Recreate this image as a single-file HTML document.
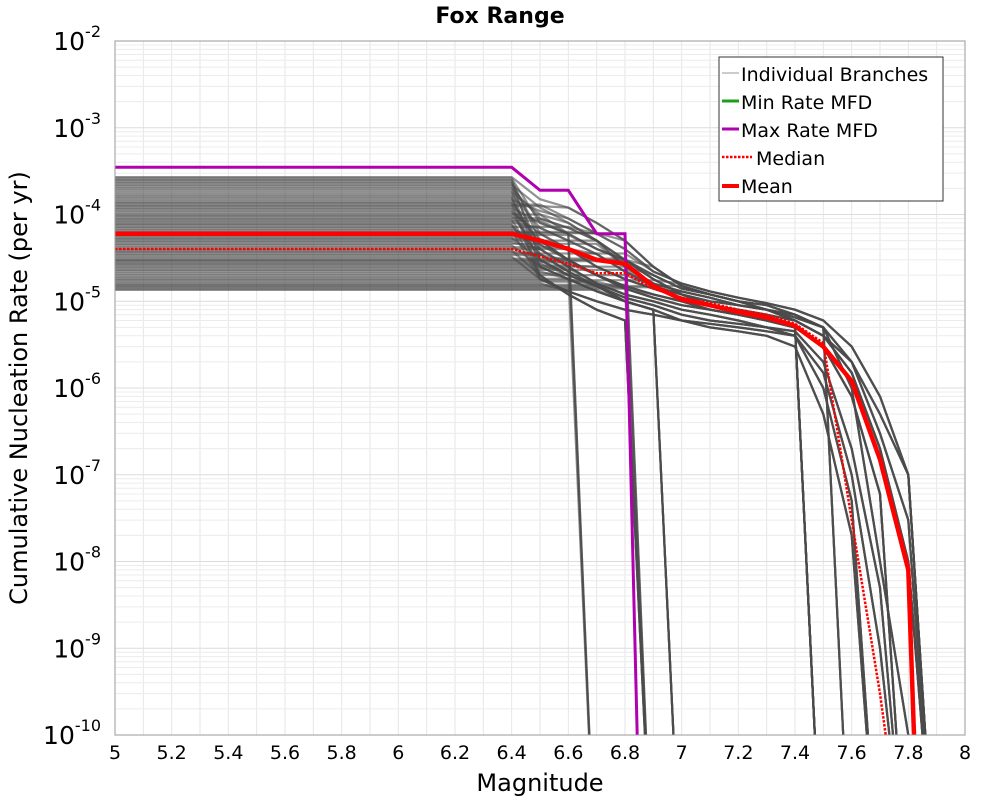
<!DOCTYPE html>
<html><head><meta charset="utf-8"><style>
html,body{margin:0;background:#fff;overflow:hidden;width:1000px;height:800px;font-family:"DejaVu Sans","Liberation Sans",sans-serif}
svg{display:block}
svg text{font-family:"DejaVu Sans","Liberation Sans",sans-serif}
</style></head><body>
<svg id="chart" width="1000" height="800" xmlns="http://www.w3.org/2000/svg">
<defs><clipPath id="plotclip"><rect x="115" y="41" width="850" height="694"/></clipPath></defs>
<rect x="0" y="0" width="1000" height="800" fill="#fff"/>
<text x="500" y="23" text-anchor="middle" font-size="22" font-weight="bold">Fox Range</text>
<g id="grid"></g>
<g id="branches" clip-path="url(#plotclip)"></g>
<g id="series" clip-path="url(#plotclip)"></g>
<rect x="115" y="41" width="850" height="694" fill="none" stroke="#999" stroke-width="1"/>
<g id="axes"></g>
<text x="540" y="791" text-anchor="middle" font-size="24">Magnitude</text>
<text transform="translate(27,388) rotate(-90)" text-anchor="middle" font-size="24">Cumulative Nucleation Rate (per yr)</text>
<g>
<rect x="719" y="57" width="224" height="144" fill="#fff" stroke="#333" stroke-width="1"/>
<g><line x1="722" y1="73" x2="739" y2="73" stroke="#999" stroke-width="1"/><text x="741" y="81" font-size="19">Individual Branches</text></g>
<g><line x1="722" y1="101" x2="739" y2="101" stroke="#1aa01a" stroke-width="3"/><text x="741" y="109" font-size="19">Min Rate MFD</text></g>
<g><line x1="722" y1="129" x2="739" y2="129" stroke="#b000b0" stroke-width="3"/><text x="741" y="137" font-size="19">Max Rate MFD</text></g>
<g><line x1="722" y1="157" x2="752" y2="157" stroke="#f00" stroke-width="2.5" stroke-dasharray="2.5,1.5"/><text x="756" y="165" font-size="19">Median</text></g>
<g><line x1="722" y1="186" x2="739" y2="186" stroke="#f00" stroke-width="4"/><text x="741" y="193" font-size="19">Mean</text></g>
</g>
</svg>
<script>
const xTicks=[5,5.2,5.4,5.6,5.8,6,6.2,6.4,6.6,6.8,7,7.2,7.4,7.6,7.8,8];
const yExps=[-2,-3,-4,-5,-6,-7,-8,-9,-10];
const mags=[5,6.4,6.5,6.6,6.7,6.8,6.9,7.0,7.1,7.2,7.3,7.4,7.5,7.6,7.7,7.8,7.9];
const meanMags=[5,6.4,6.5,6.6,6.7,6.8,6.9,7.0,7.1,7.2,7.3,7.4,7.5,7.6,7.7,7.8,7.82];
const meanRates=[6e-5,6e-5,5e-5,4e-5,3e-5,2.7e-5,1.5e-5,1.05e-5,9e-6,7.5e-6,6.5e-6,5.2e-6,3e-6,1.2e-6,1.5e-7,8e-9,1e-10];
const medianMags=[5,6.4,6.5,6.6,6.7,6.8,6.9,7.0,7.1,7.2,7.3,7.4,7.5,7.6,7.7,7.72];
const medianRates=[4e-5,4e-5,3.3e-5,2.7e-5,2.1e-5,2.1e-5,1.4e-5,1.1e-5,9.5e-6,8e-6,7e-6,5.5e-6,3.3e-6,3e-8,3e-10,1e-10];
const maxMags=[5,6.4,6.5,6.6,6.7,6.8,6.843];
const maxRates=[3.5e-4,3.5e-4,1.9e-4,1.9e-4,6e-5,6e-5,1e-10];
const branchStarts=[2.7e-4,2.6e-4,2.5e-4,2.4e-4,2.3e-4,2.2e-4,2.1e-4,2e-4,1.9e-4,1.8e-4,1.7e-4,1.62e-4,1.55e-4,1.47e-4,1.4e-4,1.35e-4,1.3e-4,1.25e-4,1.2e-4,1.15e-4,1.1e-4,1.05e-4,1e-4,9.6e-5,9.2e-5,8.8e-5,8.5e-5,8.1e-5,7.8e-5,7.5e-5,7.2e-5,6.9e-5,6.6e-5,6.3e-5,6.1e-5,5.8e-5,5.6e-5,5.4e-5,5.2e-5,5e-5,4.8e-5,4.6e-5,4.4e-5,4.2e-5,4e-5,3.85e-5,3.7e-5,3.55e-5,3.4e-5,3.25e-5,3.1e-5,3e-5,2.9e-5,2.8e-5,2.7e-5,2.6e-5,2.5e-5,2.4e-5,2.3e-5,2.2e-5,2.1e-5,2e-5,1.9e-5,1.82e-5,1.75e-5,1.68e-5,1.6e-5,1.55e-5,1.5e-5,1.45e-5,1.4e-5,1.35e-5];
const Z=1e-12;
const tails=[
[1.5e-4,1.2e-4,8e-5,5e-5,2.5e-5,1.5e-5,1.2e-5,1e-5,8e-6,6e-6,4e-6,1.5e-6,2e-7,1e-8,Z],
[8e-5,6e-5,4e-5,3e-5,1.8e-5,1.2e-5,9e-6,7.5e-6,6e-6,5e-6,3e-6,8e-7,6e-8,Z,Z],
[5e-5,3e-5,2e-5,1.5e-5,1.2e-5,1e-5,8e-6,7e-6,6e-6,5e-6,Z,Z,Z,Z,Z],
[3e-5,2e-5,1.5e-5,1e-5,8e-6,Z,Z,Z,Z,Z,Z,Z,Z,Z,Z],
[6e-5,4e-5,2.5e-5,1.8e-5,1.4e-5,1.1e-5,9e-6,8e-6,7e-6,6e-6,4e-6,2e-6,5e-7,1e-7,Z],
[1.2e-4,8e-5,5e-5,3e-5,2e-5,1.4e-5,1.2e-5,1e-5,9e-6,7e-6,5e-6,Z,Z,Z,Z],
[4e-5,2.5e-5,1.6e-5,1.2e-5,1e-5,8e-6,7e-6,6e-6,5e-6,4e-6,1e-6,5e-8,Z,Z,Z],
[9e-5,7e-5,5e-5,2.5e-5,1.6e-5,1.3e-5,1.1e-5,9e-6,8e-6,6.5e-6,5e-6,1e-6,1e-8,1e-10,Z],
[2.5e-5,1.8e-5,1.3e-5,1e-5,8e-6,6e-6,5e-6,4.5e-6,4e-6,3e-6,5e-7,2e-8,Z,Z,Z],
[1e-4,6e-5,Z,Z,Z,Z,Z,Z,Z,Z,Z,Z,Z,Z,Z],
[7e-5,5e-5,3.5e-5,2.2e-5,1.5e-5,1.2e-5,1e-5,9e-6,8e-6,7e-6,5e-6,2e-6,3e-7,3e-8,Z],
[2e-5,1.2e-5,8e-6,6e-6,Z,Z,Z,Z,Z,Z,Z,Z,Z,Z,Z],
[3.5e-5,2.2e-5,1.5e-5,1.1e-5,9e-6,7e-6,6e-6,5.5e-6,5e-6,4.5e-6,2e-6,2e-7,5e-9,Z,Z],
[1.1e-4,9e-5,6e-5,4e-5,2.2e-5,1.6e-5,1.3e-5,1.1e-5,9.5e-6,8e-6,6e-6,3e-6,8e-7,1e-7,Z],
[4.5e-5,3e-5,2e-5,1.4e-5,1.1e-5,9e-6,8e-6,7e-6,6e-6,5e-6,Z,Z,Z,Z,Z],
[1.8e-5,1.3e-5,1e-5,8e-6,7e-6,6e-6,5.5e-6,5e-6,4.5e-6,4e-6,1.5e-6,1e-7,1e-9,Z,Z],
[1.3e-4,9e-5,6e-5,6e-5,Z,Z,Z,Z,Z,Z,Z,Z,Z,Z,Z]
];
const NS="http://www.w3.org/2000/svg";
const X0=115,X1=965,Y0=41,DEC=(735-41)/8;
function xs(m){return X0+(m-5)/3*(X1-X0);}
function ys(r){return Y0+(-2-Math.log10(r))*DEC;}
function mk(tag,attrs,parent){const e=document.createElementNS(NS,tag);for(const k in attrs)e.setAttribute(k,attrs[k]);parent.appendChild(e);return e;}
const grid=document.getElementById('grid');
for(let i=1;i<30;i++){const m=5+i*0.1;const l=mk('line',{x1:xs(m),x2:xs(m),y1:Y0,y2:735,stroke:'#e6e6e6','stroke-width':1},grid);

}
for(let e=-10;e<-2;e++){for(let k=1;k<10;k++){const y=ys(k*Math.pow(10,e));const l=mk('line',{x1:X0,x2:X1,y1:y,y2:y,stroke:k==1?'#dcdcdc':'#ececec','stroke-width':1},grid);

}}
const br=document.getElementById('branches');
branchStarts.forEach((s,i)=>{const t=tails[i%tails.length];
const rates=[s,s].concat(t.map(v=>v===Z?Z:Math.min(v,s)));
const pts=mags.map((m,j)=>xs(m).toFixed(1)+','+ys(rates[j]).toFixed(1)).join(' ');
const p=mk('polyline',{points:pts,fill:'none',stroke:'#4a4a4a','stroke-opacity':0.6,'stroke-width':2.2},br);

});
const se=document.getElementById('series');
function line(ms,rs,attrs,name){const pts=ms.map((m,j)=>xs(m).toFixed(1)+','+ys(rs[j]).toFixed(1)).join(' ');
const p=mk('polyline',Object.assign({points:pts,fill:'none'},attrs),se);}
line(maxMags,maxRates,{stroke:'#b000b0','stroke-width':3},'max-rate-mfd');
line(medianMags,medianRates,{stroke:'#f00','stroke-width':2.5,'stroke-dasharray':'2.5,1.5'},'median-line');
line(meanMags,meanRates,{stroke:'#f00','stroke-width':4.5},'mean-line');
const ax=document.getElementById('axes');
xTicks.forEach(m=>{const t=mk('text',{x:xs(m),y:759,'text-anchor':'middle','font-size':19},ax);t.textContent=String(m);

});
yExps.forEach(e=>{const y=ys(Math.pow(10,e));const t=mk('text',{x:101,y:y+9,'text-anchor':'end','font-size':25},ax);


const a=mk('tspan',{},t);a.textContent='10';const b=mk('tspan',{dy:-13,'font-size':16},t);b.textContent=String(e);});
</script>
</body></html>
